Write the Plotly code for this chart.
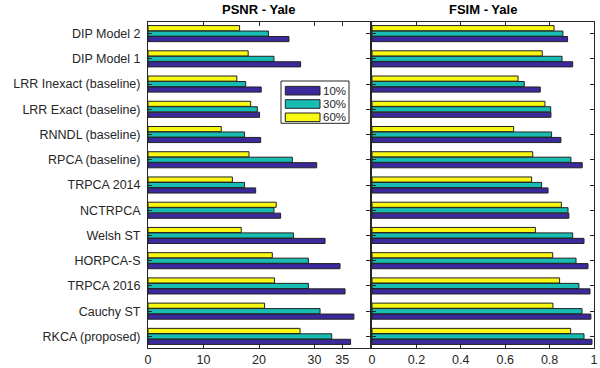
import plotly.graph_objects as go
from plotly.subplots import make_subplots

# Categories, bottom to top
methods = ["RKCA (proposed)", "Cauchy ST", "TRPCA 2016", "HORPCA-S", "Welsh ST",
           "NCTRPCA", "TRPCA 2014", "RPCA (baseline)", "RNNDL (baseline)",
           "LRR Exact (baseline)", "LRR Inexact (baseline)", "DIP Model 1", "DIP Model 2"]

series_names = ["10%", "30%", "60%"]

psnr_10 = [36.5, 37.1, 35.5, 34.6, 31.9, 23.9, 19.4, 30.4, 20.3, 20.1, 20.4, 27.5, 25.4]
psnr_30 = [33.1, 31.0, 28.9, 28.9, 26.2, 22.7, 17.4, 26.0, 17.4, 19.7, 17.6, 22.7, 21.7]
psnr_60 = [27.4, 21.0, 22.8, 22.4, 16.8, 23.1, 15.2, 18.2, 13.2, 18.5, 16.0, 18.05, 16.5]

fsim_10 = [0.991, 0.986, 0.982, 0.973, 0.955, 0.887, 0.793, 0.947, 0.851, 0.806, 0.758, 0.904, 0.881]
fsim_30 = [0.955, 0.946, 0.932, 0.919, 0.904, 0.883, 0.764, 0.896, 0.809, 0.805, 0.686, 0.856, 0.860]
fsim_60 = [0.895, 0.815, 0.845, 0.814, 0.736, 0.853, 0.719, 0.724, 0.638, 0.779, 0.658, 0.767, 0.820]

psnr_ticks = [0, 10, 20, 30, 35]
fsim_ticks = [0, 0.2, 0.4, 0.6, 0.8, 1]
fsim_ticktext = ["0", "0.2", "0.4", "0.6", "0.8", "1"]

colors = ["#3a2a9c", "#17bcb3", "#f8f812"]
FONT = "Liberation Sans, Arial, Helvetica, sans-serif"

fig = make_subplots(rows=1, cols=2, shared_yaxes=False, horizontal_spacing=0)

for vals, name, col in zip([psnr_10, psnr_30, psnr_60], series_names, colors):
    fig.add_trace(go.Bar(y=methods, x=vals, orientation="h", name=name,
                         marker=dict(color=col, line=dict(color="#222222", width=1)),
                         showlegend=False), row=1, col=1)
for vals, name, col in zip([fsim_10, fsim_30, fsim_60], series_names, colors):
    fig.add_trace(go.Bar(y=methods, x=vals, orientation="h", name=name,
                         marker=dict(color=col, line=dict(color="#222222", width=1)),
                         showlegend=False), row=1, col=2)

W, H = 600, 368
L, R, T, B = 148, 6, 22, 20
pw = W - L - R
ph = H - T - B

def px(x):
    return (x - L) / pw

def py(y):
    return (H - B - y) / ph

axis_common = dict(showline=True, linecolor="#262626", linewidth=1, mirror="ticks",
                   ticks="inside", ticklen=4, tickcolor="#262626", showgrid=False,
                   zeroline=False, automargin=False,
                   tickfont=dict(family=FONT, size=12.5, color="#262626"))

fig.update_xaxes(domain=[0, px(370)], range=[0, 40], tickvals=psnr_ticks,
                 **axis_common, row=1, col=1)
fig.update_xaxes(domain=[px(372), 1], range=[0, 1], tickvals=fsim_ticks,
                 ticktext=fsim_ticktext, **axis_common, row=1, col=2)
fig.update_yaxes(range=[-0.46, 12.46], **axis_common, ticklabelstandoff=4, row=1, col=1)
fig.update_yaxes(range=[-0.46, 12.46], **axis_common, showticklabels=False, row=1, col=2)

# custom legend
shapes = [dict(type="rect", xref="paper", yref="paper",
               x0=px(281), x1=px(349), y0=py(123.3), y1=py(81),
               line=dict(color="#262626", width=1), fillcolor="white", layer="above")]
annots = []
rows_c = [90.7, 104, 117.3]
for name, col, yc in zip(series_names, colors, rows_c):
    shapes.append(dict(type="rect", xref="paper", yref="paper",
                       x0=px(285.3), x1=px(320), y0=py(yc + 4.3), y1=py(yc - 4.3),
                       line=dict(color="#222222", width=1), fillcolor=col, layer="above"))
    annots.append(dict(xref="paper", yref="paper", x=px(321), y=py(yc), text=name,
                       showarrow=False, xanchor="left", yanchor="middle",
                       font=dict(family=FONT, size=11.5, color="#262626")))

annots.append(dict(xref="paper", yref="paper", x=px(258), y=1, yshift=3, text="<b>PSNR - Yale</b>",
                   showarrow=False, xanchor="center", yanchor="bottom",
                   font=dict(family=FONT, size=13, color="black")))
annots.append(dict(xref="paper", yref="paper", x=px(483), y=1, yshift=3, text="<b>FSIM - Yale</b>",
                   showarrow=False, xanchor="center", yanchor="bottom",
                   font=dict(family=FONT, size=13, color="black")))

fig.update_layout(width=W, height=H, margin=dict(l=L, r=R, t=T, b=B),
                  paper_bgcolor="white", plot_bgcolor="white",
                  barmode="group", bargap=0.35, bargroupgap=0.06,
                  shapes=shapes, annotations=annots,
                  font=dict(family=FONT, size=12, color="#262626"))

fig.write_html("out.html", config={"displayModeBar": False},
               post_script="document.body.style.margin='0';document.body.style.overflow='hidden';")
